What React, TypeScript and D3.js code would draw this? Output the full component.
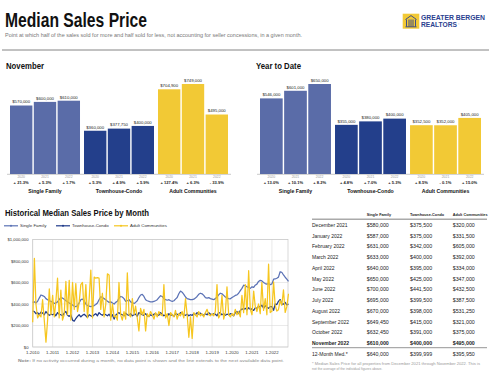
import React from "react";
import * as d3 from "d3";

// fonts + colours
const FONT = "'Liberation Sans', Arial, Helvetica, sans-serif";
const NARROW = "'Liberation Sans Narrow', 'Liberation Sans', Arial, sans-serif";
const SF_BAR = "#5a6ca8";
const TH_BAR = "#233f8b";
const AC_BAR = "#f2c935";
const SF_LINE = "#5b72b5";
const TH_LINE = "#1f3a8a";
const AC_LINE = "#f6c61f";
const BRAND = "#2b3f8f";

// bar data
const groups = ["Single Family", "Townhouse-Condo", "Adult Communities"];
const years = ["2020", "2021", "2022"];
const groupColors = [SF_BAR, TH_BAR, AC_BAR];

const novSingleFamily = [570000, 600000, 610000];
const novTownhouse = [360000, 377750, 400000];
const novAdult = [704900, 749000, 495000];
const novSingleFamilyChg = ["+ 21.3%", "+ 5.3%", "+ 1.7%"];
const novTownhouseChg = ["+ 5.3%", "+ 4.9%", "+ 5.9%"];
const novAdultChg = ["+ 127.4%", "+ 6.3%", "- 33.9%"];

const ytdSingleFamily = [546000, 601000, 650000];
const ytdTownhouse = [355000, 380000, 400000];
const ytdAdult = [352500, 352000, 405000];
const ytdSingleFamilyChg = ["+ 13.0%", "+ 10.1%", "+ 8.2%"];
const ytdTownhouseChg = ["+ 4.8%", "+ 7.0%", "+ 5.3%"];
const ytdAdultChg = ["+ 8.5%", "- 0.1%", "+ 15.0%"];

// monthly history, $ thousands, Jan 2010 .. Nov 2022
const sfMonthly = [
  416, 420, 410, 425, 455, 484, 478, 470, 450, 440, 430, 425,
  415, 405, 410, 420, 440, 460, 455, 445, 430, 420, 410, 400,
  390, 380, 375, 385, 410, 440, 445, 430, 400, 385, 380, 375,
  380, 385, 395, 410, 440, 468, 460, 450, 440, 425, 415, 420,
  410, 400, 415, 425, 455, 470, 465, 450, 425, 430, 440, 420,
  410, 405, 415, 430, 460, 484, 490, 470, 440, 430, 425, 420,
  420, 425, 430, 440, 460, 477, 470, 450, 440, 435, 440, 430,
  425, 430, 445, 460, 495, 520, 510, 490, 465, 450, 445, 440,
  440, 445, 455, 470, 490, 500, 495, 480, 460, 455, 460, 450,
  445, 440, 450, 465, 485, 500, 495, 480, 465, 455, 450, 448,
  460, 470, 480, 485, 500, 525, 545, 575, 570, 560, 555, 545,
  560, 555, 575, 585, 610, 620, 615, 600, 590, 585, 590, 580,
  587, 631, 633, 640, 650, 700, 695, 670, 649, 632, 610,
];
const thMonthly = [
  335, 330, 310, 320, 300, 325, 315, 300, 330, 310, 295, 305,
  300, 310, 290, 320, 305, 300, 290, 315, 330, 295, 285, 300,
  250, 240, 265, 285, 300, 280, 295, 305, 290, 275, 300, 290,
  285, 300, 310, 290, 320, 305, 295, 310, 300, 290, 305, 280,
  300, 260, 295, 310, 320, 305, 300, 290, 315, 300, 295, 310,
  290, 300, 305, 285, 320, 310, 300, 295, 310, 290, 285, 300,
  290, 305, 310, 300, 295, 320, 305, 290, 300, 285, 310, 295,
  300, 285, 310, 305, 295, 320, 310, 300, 295, 305, 290, 300,
  295, 310, 300, 320, 305, 315, 300, 295, 310, 300, 320, 305,
  300, 310, 305, 290, 320, 315, 300, 310, 295, 305, 300, 310,
  305, 290, 320, 330, 310, 340, 355, 350, 360, 345, 365, 350,
  355, 340, 365, 360, 380, 370, 390, 360, 385, 370, 360, 375.5,
  375, 342, 400, 395, 425, 441.5, 399.5, 398, 415, 391, 400,
];
const acMonthly = [
  230, 825, 400, 270, 300, 280, 440, 250, 45, 250, 540, 300,
  480, 280, 420, 640, 270, 530, 250, 300, 610, 300, 620, 250,
  600, 350, 590, 330, 410, 580, 600, 330, 580, 270, 450, 716,
  270, 650, 640, 645, 640, 350, 500, 280, 400, 680, 670, 250,
  400, 280, 290, 250, 600, 300, 250, 330, 260, 690, 300, 280,
  450, 300, 380, 270, 150, 360, 300, 350, 150, 310, 280, 330,
  300, 260, 320, 280, 330, 300, 290, 580, 270, 310, 200, 320,
  300, 280, 340, 260, 310, 290, 330, 270, 450, 300, 90, 280,
  80, 320, 300, 280, 330, 290, 310, 280, 320, 350, 300, 290,
  310, 290, 330, 580, 270, 300, 480, 260, 320, 560, 300, 280,
  310, 290, 350, 300, 330, 280, 480, 320, 580, 300, 710, 350,
  300, 520, 380, 330, 400, 310, 600, 340, 450, 300, 770, 320,
  331.5, 605, 392, 334, 347, 432.5, 387.5, 531.25, 321, 375, 495,
];
const yTicks = [0, 200, 400, 600, 800, 1000];

// table
const tableMonths = [
  "December 2021", "January 2022", "February 2022", "March 2022", "April 2022", "May 2022",
  "June 2022", "July 2022", "August 2022", "September 2022", "October 2022", "November 2022",
];
const tableSingle = [580000, 587000, 631000, 633000, 640000, 650000, 700000, 695000, 670000, 649450, 632450, 610000];
const tableTownhouse = [375500, 375000, 342000, 400000, 395000, 425000, 441500, 399500, 398000, 415000, 391000, 400000];
const tableAdult = [320000, 331500, 605000, 392000, 334000, 347000, 432500, 387500, 531250, 321000, 375000, 495000];
const medianRow = ["12-Month Med.*", 640000, 399999, 395950];

const money = (v: number) => "$" + d3.format(",")(v);

function BarPanel({ x0, x1, title, titleLen, values, changes }: any) {
  const outer = d3.scaleBand().domain(groups).range([x0, x1]).paddingInner(0.054);
  const inner = d3.scaleBand().domain(years).range([0, outer.bandwidth()]).paddingInner(0.06);
  const maxV = d3.max(values.flat() as number[]) as number;
  const y = d3.scaleLinear().domain([0, maxV]).range([174, 84]);
  return (
    <g>
      <text x={x0 - 4} y={68.5} fontFamily={NARROW} fontWeight="bold" fontSize={8.5} textLength={titleLen} lengthAdjust="spacingAndGlyphs" fill="#111">{title}</text>
      <line x1={x0 - 3} x2={x1 + 3} y1={174.3} y2={174.3} stroke="#bbb" strokeWidth={0.8} />
      {groups.map((g, gi) => {
        const gx = outer(g) as number;
        return (
          <g key={g}>
            {years.map((yr, yi) => {
              const v = values[gi][yi];
              const bx = gx + (inner(yr) as number);
              const cx = bx + inner.bandwidth() / 2;
              return (
                <g key={yr}>
                  <rect x={bx} y={y(v)} width={inner.bandwidth()} height={174 - y(v)} fill={groupColors[gi]} />
                  <text x={cx} y={y(v) - 2.2} textAnchor="middle" fontFamily={FONT} fontSize={4.3} fill="#222">{money(v)}</text>
                  <text x={cx} y={178.3} textAnchor="middle" fontFamily={FONT} fontSize={3.4} fill="#999">{yr}</text>
                  <text x={cx} y={183.6} textAnchor="middle" fontFamily={FONT} fontWeight="bold" fontSize={4.1} fill="#222">{changes[gi][yi]}</text>
                </g>
              );
            })}
            <text x={gx + outer.bandwidth() / 2} y={193} textAnchor="middle" fontFamily={FONT} fontWeight="bold" fontSize={5.2} fill="#111">{g}</text>
          </g>
        );
      })}
    </g>
  );
}

function LineChart() {
  const x = d3.scaleTime().domain([new Date(2010, 0, 1), new Date(2022, 10, 1)]).range([32.7, 288.5]);
  const y = d3.scaleLinear().domain([0, 1000]).range([347, 239.5]);
  const dates = sfMonthly.map((_, i) => new Date(2010, i, 1));
  const line = d3.line<number>().x((_, i) => x(dates[i])).y((d) => y(d));
  const yearTicks = d3.range(2010, 2023).map((yr) => new Date(yr, 0, 1));
  const series = [
    { name: "Single Family", data: sfMonthly, color: SF_LINE, lx: 4 },
    { name: "Townhouse-Condo", data: thMonthly, color: TH_LINE, lx: 56 },
    { name: "Adult Communities", data: acMonthly, color: AC_LINE, lx: 114 },
  ];
  return (
    <g>
      <text x={5} y={215.5} fontFamily={NARROW} fontWeight="bold" fontSize={8.5} textLength={144} lengthAdjust="spacingAndGlyphs" fill="#111">Historical Median Sales Price by Month</text>
      {series.map((s) => (
        <g key={s.name}>
          <line x1={s.lx} x2={s.lx + 14} y1={225.8} y2={225.8} stroke={s.color} strokeWidth={1.2} />
          <circle cx={s.lx + 7} cy={225.8} r={1} fill={s.color} />
          <text x={s.lx + 16} y={227.4} fontFamily={FONT} fontSize={4.4} fill="#333">{s.name}</text>
        </g>
      ))}
      {yTicks.map((t) => (
        <g key={t}>
          <line x1={32.7} x2={288} y1={y(t)} y2={y(t)} stroke="#dcdcdc" strokeWidth={0.6} />
          <text x={28.5} y={y(t) + 1.5} textAnchor="end" fontFamily={FONT} fontSize={4.2} fill="#333">{money(t * 1000)}</text>
        </g>
      ))}
      {yearTicks.map((d) => (
        <g key={d.getFullYear()}>
          <line x1={x(d)} x2={x(d)} y1={239.5} y2={347} stroke="#dcdcdc" strokeWidth={0.6} />
          <text x={x(d)} y={353.6} textAnchor="middle" fontFamily={FONT} fontSize={4.3} fill="#333">{"1-" + d.getFullYear()}</text>
        </g>
      ))}
      <rect x={32.7} y={239.5} width={255.3} height={107.5} fill="none" stroke="#c8c8c8" strokeWidth={0.7} />
      {series.map((s) => (
        <path key={s.name} d={line(s.data) as string} fill="none" stroke={s.color} strokeWidth={1.25} strokeLinejoin="round" />
      ))}
      <text x={18} y={362} fontFamily={FONT} fontSize={3.9} fill="#888" textLength={266} lengthAdjust="spacingAndGlyphs">
        <tspan fontWeight="bold">Note:</tspan> If no activity occurred during a month, no data point is shown and the line extends to the next available data point.
      </text>
    </g>
  );
}

function Table() {
  const cols = [312, 366.7, 410, 452.7];
  const rowY = (i: number) => 227 + i * 10.73;
  const headers = ["Single Family", "Townhouse-Condo", "Adult Communities"];
  return (
    <g fontFamily={FONT}>
      {headers.map((h, i) => (
        <text key={h} x={cols[i + 1]} y={216} fontSize={3.8} fontWeight="bold" fill="#222">{h}</text>
      ))}
      <line x1={312} x2={487} y1={219.2} y2={219.2} stroke="#aaa" strokeWidth={1.4} />
      {tableMonths.map((m, i) => {
        const bold = i === tableMonths.length - 1;
        const vals = [tableSingle[i], tableTownhouse[i], tableAdult[i]];
        return (
          <g key={m} fontWeight={bold ? "bold" : "normal"} fill="#222">
            <text x={cols[0]} y={rowY(i)} fontSize={5}>{m}</text>
            {vals.map((v, j) => (
              <text key={j} x={cols[j + 1]} y={rowY(i)} fontSize={5.3}>{money(v)}</text>
            ))}
          </g>
        );
      })}
      <line x1={312} x2={487} y1={347.7} y2={347.7} stroke="#aaa" strokeWidth={1.2} />
      <g fill="#222">
        <text x={cols[0]} y={356} fontSize={5}>{medianRow[0]}</text>
        {medianRow.slice(1).map((v, j) => (
          <text key={j} x={cols[j + 1]} y={356} fontSize={5.3}>{money(v as number)}</text>
        ))}
      </g>
      <text x={312} y={365.2} fontSize={3.4} fill="#999" textLength={168} lengthAdjust="spacingAndGlyphs">* Median Sales Price for all properties from December 2021 through November 2022. This is</text>
      <text x={312} y={370.3} fontSize={3.4} fill="#999">not the average of the individual figures above.</text>
    </g>
  );
}

export default function App() {
  return (
    <svg width={500} height={374} style={{ position: "absolute", left: 0, top: 0, display: "block", background: "#fff" }}>
      <rect width={500} height={374} fill="#fff" />
      {/* header */}
      <text x={5} y={27} fontFamily={NARROW} fontWeight="bold" fontSize={20} textLength={142} lengthAdjust="spacingAndGlyphs" fill="#111">Median Sales Price</text>
      <text x={5} y={37} fontFamily={FONT} fontSize={4.5} fill="#777" textLength={297} lengthAdjust="spacingAndGlyphs">Point at which half of the sales sold for more and half sold for less, not accounting for seller concessions, in a given month.</text>
      <rect x={402.7} y={13.7} width={16.6} height={15} fill="#f2c935" />
      <path d="M405.5,19.5 L411,15.6 L416.5,19.5 M406.5,19.5 L406.5,26.5 M409,19.5 L409,26.5 M411,19.5 L411,26.5 M413,19.5 L413,26.5 M415.5,19.5 L415.5,26.5 M405.5,26.8 L416.5,26.8" fill="none" stroke={BRAND} strokeWidth={0.9} />
      <text x={421} y={19.6} fontFamily={FONT} fontWeight="bold" fontSize={6.6} textLength={64} lengthAdjust="spacingAndGlyphs" fill={BRAND}>GREATER BERGEN</text>
      <text x={421} y={27.4} fontFamily={FONT} fontWeight="bold" fontSize={6.6} textLength={36} lengthAdjust="spacingAndGlyphs" fill={BRAND}>REALTORS</text>
      <text x={458} y={24.5} fontFamily={FONT} fontSize={2} fill={BRAND}>®</text>
      <line x1={2} x2={489} y1={50} y2={50} stroke="#777" strokeWidth={0.9} />

      <BarPanel x0={10} x1={228} title="November" titleLen={38}
        values={[novSingleFamily, novTownhouse, novAdult]}
        changes={[novSingleFamilyChg, novTownhouseChg, novAdultChg]} />
      <BarPanel x0={260} x1={481} title="Year to Date" titleLen={45}
        values={[ytdSingleFamily, ytdTownhouse, ytdAdult]}
        changes={[ytdSingleFamilyChg, ytdTownhouseChg, ytdAdultChg]} />

      <LineChart />
      <Table />
    </svg>
  );
}
